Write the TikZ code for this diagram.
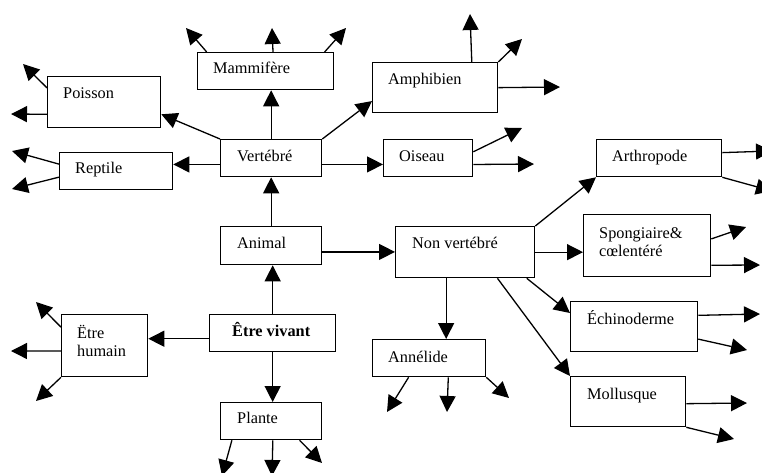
\documentclass[tikz,border=0pt]{standalone}
\usepackage{fontspec}
\setmainfont{Liberation Serif}
\usetikzlibrary{arrows.meta}

\tikzset{
  box/.style={draw=black, line width=1.3pt, fill=white, inner sep=0pt, anchor=north west},
  txt/.style={anchor=base west, inner sep=0pt, font=\fontsize{16.3}{18}\selectfont},
  link/.style={line width=1.3pt, -{Triangle[length=16pt,width=16pt]}},
}

\begin{document}
\begin{tikzpicture}[x=1pt, y=-1pt]
\useasboundingbox (0,0) rectangle (762,473);

% ---- boxes ----
\node[box, minimum width=101pt, minimum height=37pt] (vert) at (220,139) {};
\node[box, minimum width=136pt, minimum height=37pt] (mam)  at (197,52)  {};
\node[box, minimum width=113pt, minimum height=51pt] (poi)  at (47,76)   {};
\node[box, minimum width=113pt, minimum height=37pt] (rep)  at (59,152)  {};
\node[box, minimum width=125pt, minimum height=50pt] (amp)  at (372,62)  {};
\node[box, minimum width=89pt,  minimum height=37pt] (ois)  at (383,139) {};
\node[box, minimum width=125pt, minimum height=37pt] (art)  at (596,139) {};
\node[box, minimum width=139pt, minimum height=51pt] (nonv) at (395,226) {};
\node[box, minimum width=127pt, minimum height=62pt] (spo)  at (583,214) {};
\node[box, minimum width=127pt, minimum height=50pt] (ech)  at (570,301) {};
\node[box, minimum width=115pt, minimum height=50pt] (mol)  at (570,376) {};
\node[box, minimum width=113pt, minimum height=37pt] (ann)  at (372,339) {};
\node[box, minimum width=101pt, minimum height=38pt] (ani)  at (220,226) {};
\node[box, minimum width=126pt, minimum height=37pt] (etre) at (209,314) {};
\node[box, minimum width=86pt,  minimum height=62pt] (hum)  at (61,314)  {};
\node[box, minimum width=101pt, minimum height=37pt] (pla)  at (220,402) {};

% ---- labels ----
\node[txt] (vert-t) at (237,162) {Vertébré};
\node[txt] (mam-t)  at (213,74)  {Mammifère};
\node[txt] (poi-t)  at (63,99)   {Poisson};
\node[txt] (rep-t)  at (75,173)  {Reptile};
\node[txt] (amp-t)  at (388,85)  {Amphibien};
\node[txt] (ois-t)  at (399,162) {Oiseau};
\node[txt] (art-t)  at (612,162) {Arthropode};
\node[txt] (spo-t1) at (599,238) {Spongiaire\&};
\node[txt] (spo-t2) at (599,256) {cœlentéré};
\node[txt] (nonv-t) at (412,248) {Non vertébré};
\node[txt] (ech-t)  at (587,324) {Échinoderme};
\node[txt] (mol-t)  at (587,399) {Mollusque};
\node[txt] (ann-t)  at (388,362) {Annélide};
\node[txt] (ani-t)  at (237,248) {Animal};
\node[txt, font=\fontsize{16.3}{18}\selectfont\bfseries] (etre-t) at (232,336) {Être vivant};
\node[txt] (hum-t1) at (77,338)  {Ëtre};
\node[txt] (hum-t2) at (77,356)  {humain};
\node[txt] (pla-t)  at (237,423) {Plante};

% ---- open ends ----
\coordinate (m1) at (186,28);
\coordinate (m2) at (272,28);
\coordinate (m3) at (346,28);
\coordinate (p1) at (23,64);
\coordinate (p2) at (11,114);
\coordinate (r1) at (12,151);
\coordinate (r2) at (12,189);
\coordinate (a1) at (470,14);
\coordinate (a2) at (522,39);
\coordinate (a3) at (560,87);
\coordinate (o1) at (522,128);
\coordinate (o2) at (534,164);
\coordinate (t1) at (772,151);
\coordinate (t2) at (772,191);
\coordinate (s1) at (746,227);
\coordinate (s2) at (760,265);
\coordinate (e1) at (760,314);
\coordinate (e2) at (747,350);
\coordinate (l1) at (747,403);
\coordinate (l2) at (734,439);
\coordinate (n1) at (387,412);
\coordinate (n2) at (447,412);
\coordinate (n3) at (509,398);
\coordinate (h1) at (36,302);
\coordinate (h2) at (11,351);
\coordinate (h3) at (36,401);
\coordinate (q1) at (222,476);
\coordinate (q2) at (272,476);
\coordinate (q3) at (322,463);

% ---- main links ----
\draw[link] (etre.north) -- (etre.north |- ani.south);
\draw[link] (ani.north) -- (vert.south);
\draw[link] (vert.north) -- (vert.north |- mam.south);
\draw[link] (vert.north west) -- (poi.-12.5);
\draw[link] (vert.187.3) -- (vert.187.3 -| rep.east);
\draw[link] (vert.north east) -- (amp.192.6);
\draw[link] (vert.-7.3) -- (vert.-7.3 -| ois.west);
\draw[link] (ani.-7.9) -- (ani.-7.9 -| nonv.west);
\draw[link] (etre.185.9) -- (etre.185.9 -| hum.east);
\draw[link] (etre.south) -- (etre.south |- pla.north);
\draw[link] (nonv.north east) -- (art.south west);
\draw[link] (nonv.east) -- (nonv.east -| spo.west);
\draw[link] (nonv.-23.9) -- (ech.168.4);
\draw[link] (nonv.-39) -- (mol.north west);
\draw[link] (nonv.234) -- (nonv.234 |- ann.north);

% ---- open-ended links ----
\draw[link] (mam.162) -- (m1);
\draw[link] (mam.69.3) -- (m2);
\draw[link] (mam.18) -- (m3);
\draw[link] (poi.166.6) -- (p1);
\draw[link] (poi.192.5) -- (p2);
\draw[link] (rep.173.4) -- (r1);
\draw[link] (rep.186.6) -- (r2);
\draw[link] (amp.35.15) -- (a1);
\draw[link] (amp.north east) -- (a2);
\draw[link] (amp.east) -- (a3);
\draw[link] (ois.8.3) -- (o1);
\draw[link] (ois.-8.3) -- (o2);
\draw[link] (art.5.9) -- (t1);
\draw[link] (art.south east) -- (t2);
\draw[link] (spo.6.7) -- (s1);
\draw[link] (spo.-17.1) -- (s2);
\draw[link] (ech.10.7) -- (e1);
\draw[link] (ech.-11.57) -- (e2);
\draw[link] (mol.-2) -- (l1);
\draw[link] (mol.south east) -- (l2);
\draw[link] (ann.223.5) -- (n1);
\draw[link] (ann.-45) -- (n2);
\draw[link] (ann.south east) -- (n3);
\draw[link] (hum.157.3) -- (h1);
\draw[link] (hum.187.9) -- (h2);
\draw[link] (hum.south west) -- (h3);
\draw[link] (pla.206.9) -- (q1);
\draw[link] (pla.-85.4) -- (q2);
\draw[link] (pla.-34.9) -- (q3);
\end{tikzpicture}
\end{document}
